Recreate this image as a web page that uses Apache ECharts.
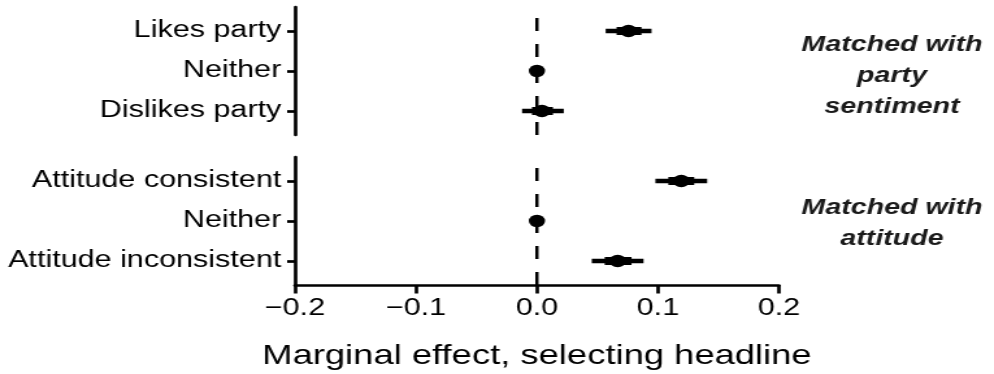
<!DOCTYPE html>
<html>
<head>
<meta charset="utf-8">
<script src="https://cdn.jsdelivr.net/npm/echarts@6/dist/echarts.min.js"></script>
<style>
  html, body { margin: 0; padding: 0; background: #fff; overflow: hidden; }
  /* the reference is stretched horizontally, so draw narrow and scale x */
  #chart { width: 765px; height: 374px; transform: scaleX(1.2993); transform-origin: 0 0; }
</style>
</head>
<body>
<div id="chart"></div>
<script>
// y positions 1..3 (bottom to top)
const partyLabels = ["Dislikes party", "Neither", "Likes party"];
const partyEst = [0.0041, 0, 0.0757];
const partyLo95 = [-0.0123, 0, 0.0568];
const partyHi95 = [0.0222, 0, 0.0947];
const partyLo = [-0.0041, 0, 0.0658];
const partyHi = [0.0132, 0, 0.0864];

const attLabels = ["Attitude inconsistent", "Neither", "Attitude consistent"];
const attEst = [0.0667, 0, 0.1193];
const attLo95 = [0.0453, 0, 0.0979];
const attHi95 = [0.0881, 0, 0.1407];
const attLo = [0.056, 0, 0.1086];
const attHi = [0.0782, 0, 0.130];

const xTicks = [-0.2, -0.1, 0.0, 0.1, 0.2];
const refLine = 0;
const yMin = 0.4, yMax = 3.6;

const font = '"Liberation Sans", Arial, sans-serif';

function rows(a, b) {
	return a.map((v, i) => [v, b[i], i + 1]);
}

function barItem(width) {
	return function (params, api) {
		const y = api.value(2);
		const p1 = api.coord([api.value(0), y]);
		const p2 = api.coord([api.value(1), y]);
		return {
			type: "line",
			shape: { x1: p1[0], y1: p1[1], x2: p2[0], y2: p2[1] },
			style: { stroke: "#000", lineWidth: width, lineCap: "butt" },
		};
	};
}

function panelSeries(i, est, lo95, hi95, lo, hi) {
	return [
		{
			type: "line",
			xAxisIndex: i,
			yAxisIndex: i,
			data: [[refLine, yMin], [refLine, yMax]],
			symbol: "none",
			silent: true,
			z: 1,
			lineStyle: { color: "#000", width: 2.5, type: [13, 13] },
		},
		{
			type: "custom",
			xAxisIndex: i,
			yAxisIndex: i,
			data: rows(lo95, hi95),
			renderItem: barItem(4.5),
			z: 2,
		},
		{
			type: "custom",
			xAxisIndex: i,
			yAxisIndex: i,
			data: rows(lo, hi),
			renderItem: barItem(8),
			z: 3,
		},
		{
			type: "scatter",
			xAxisIndex: i,
			yAxisIndex: i,
			data: est.map((v, k) => [v, k + 1]),
			symbol: "circle",
			symbolSize: 12.5,
			itemStyle: { color: "#000", opacity: 1 },
			z: 4,
		},
	];
}

function yAxis(grid, labels) {
	return {
		type: "value",
		gridIndex: grid,
		min: yMin,
		max: yMax,
		splitLine: { show: false },
		axisLine: { show: true, onZero: false, lineStyle: { color: "#000", width: 2.7 } },
		axisTick: {
			show: true,
			length: 6,
			customValues: [1, 2, 3],
			lineStyle: { color: "#000", width: 2.7 },
		},
		axisLabel: {
			customValues: [1, 2, 3],
			margin: 10.5,
			color: "#000",
			fontFamily: font,
			fontSize: 23.5,
			formatter: (v) => labels[Math.round(v) - 1],
		},
	};
}

const xBase = {
	type: "value",
	min: xTicks[0],
	max: xTicks[xTicks.length - 1],
	interval: 0.1,
	splitLine: { show: false },
};

const chart = echarts.init(document.getElementById("chart"), null, {
	renderer: "canvas",
});

const stripStyle = {
	fontFamily: font,
	fontSize: 22,
	fontWeight: "bold",
	fontStyle: "italic",
	lineHeight: 31,
	fill: "#1a1a1a",
	align: "center",
	verticalAlign: "middle",
};

chart.setOption({
	animation: false,
	grid: [
		{ left: 227, width: 372.5, top: 7, height: 128 },
		{ left: 227, width: 372.5, top: 157, height: 128 },
	],
	xAxis: [
		Object.assign({}, xBase, { gridIndex: 0, show: false }),
		Object.assign({}, xBase, {
			gridIndex: 1,
			axisLine: { show: true, onZero: false, lineStyle: { color: "#000", width: 2.7 } },
			axisTick: { show: true, length: 8.5, lineStyle: { color: "#000", width: 2.7 } },
			axisLabel: {
				margin: 12,
				color: "#000",
				fontFamily: font,
				fontSize: 23.5,
				formatter: (v) => (v < 0 ? "\u2212" : "") + Math.abs(v).toFixed(1),
			},
			name: "Marginal effect, selecting headline",
			nameLocation: "middle",
			nameGap: 57,
			nameTextStyle: { color: "#000", fontFamily: font, fontSize: 28 },
		}),
	],
	yAxis: [yAxis(0, partyLabels), yAxis(1, attLabels)],
	series: [
		...panelSeries(0, partyEst, partyLo95, partyHi95, partyLo, partyHi),
		...panelSeries(1, attEst, attLo95, attHi95, attLo, attHi),
	],
	graphic: [
		{
			type: "text",
			x: 686.5,
			y: 76,
			style: Object.assign({ text: "Matched with\nparty\nsentiment" }, stripStyle),
		},
		{
			type: "text",
			x: 686.5,
			y: 223,
			style: Object.assign({ text: "Matched with\nattitude" }, stripStyle),
		},
	],
});
</script>
</body>
</html>
